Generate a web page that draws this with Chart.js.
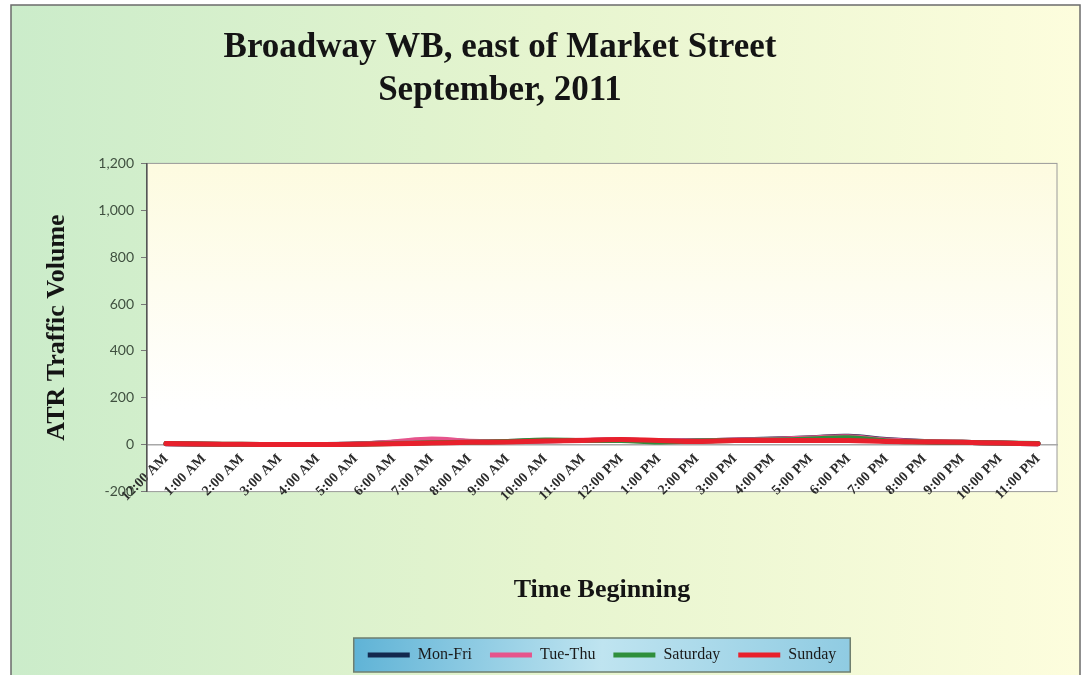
<!DOCTYPE html>
<html>
<head>
<meta charset="utf-8">
<script src="https://cdn.jsdelivr.net/npm/chart.js@4/dist/chart.umd.min.js"></script>
<style>
  html, body { margin: 0; padding: 0; background: #fff; }
  #wrap { width: 1084px; height: 675px; }
</style>
</head>
<body>
<div id="wrap"><canvas id="chart0"></canvas></div>
<script>
// hour labels along the bottom
const hours = ['12:00 AM', '1:00 AM', '2:00 AM', '3:00 AM', '4:00 AM', '5:00 AM',
  '6:00 AM', '7:00 AM', '8:00 AM', '9:00 AM', '10:00 AM', '11:00 AM',
  '12:00 PM', '1:00 PM', '2:00 PM', '3:00 PM', '4:00 PM', '5:00 PM',
  '6:00 PM', '7:00 PM', '8:00 PM', '9:00 PM', '10:00 PM', '11:00 PM'];
const monFri = [4, 2, 1, 1, 1, 3, 10, 20, 14, 14, 17, 18, 20, 16, 17, 20, 24, 30, 36, 22, 14, 10, 7, 4];
const tueThu = [4, 2, 1, 1, 1, 3, 12, 24, 15, 14, 16, 19, 21, 16, 17, 20, 23, 29, 34, 20, 14, 10, 7, 4];
const saturday = [5, 3, 2, 1, 1, 2, 5, 8, 10, 14, 20, 18, 18, 12, 16, 18, 20, 24, 30, 16, 12, 10, 7, 5];
const sunday = [5, 3, 2, 1, 1, 2, 4, 7, 10, 12, 16, 18, 22, 18, 14, 18, 18, 18, 18, 14, 12, 10, 7, 4];
const yMin = -200;
const yMax = 1200;
const yStep = 200;

// {{{ backdrop plugin
const backdrop =
{
  id: 'backdrop',
  afterLayout(chart)
  {
    // title sits left of centre in the original
    chart.titleBlock.left = 0;
    chart.titleBlock.right = 1000;
  },
  beforeDraw(chart)
  {
    let ctx = chart.ctx;
    let a = chart.chartArea;
    ctx.save();
    let g = ctx.createLinearGradient(11, 0, 1080, 0);
    g.addColorStop(0, '#cbecca');
    g.addColorStop(0.5, '#e6f5cf');
    g.addColorStop(1, '#fdfddd');
    ctx.fillStyle = g;
    ctx.fillRect(11, 5, 1069, 670);
    ctx.strokeStyle = '#6b6b6b';
    ctx.lineWidth = 1.5;
    ctx.strokeRect(11, 5, 1069, 672);
    let p = ctx.createLinearGradient(0, a.top, 0, a.bottom);
    p.addColorStop(0, '#fdfbe0');
    p.addColorStop(0.75, '#ffffff');
    p.addColorStop(1, '#ffffff');
    ctx.fillStyle = p;
    ctx.fillRect(a.left, a.top, a.right - a.left, a.bottom - a.top);
    ctx.strokeStyle = '#9a9a9a';
    ctx.lineWidth = 1;
    ctx.strokeRect(a.left, a.top, a.right - a.left, a.bottom - a.top);
    // legend frame
    let l = chart.legend;
    if (l && l.legendHitBoxes && l.legendHitBoxes.length)
    {
      let hb = l.legendHitBoxes;
      let x0 = hb[0].left - 14;
      let x1 = hb[hb.length - 1].left + hb[hb.length - 1].width + 14;
      let y0 = hb[0].top - 9;
      let y1 = hb[0].top + hb[0].height + 9;
      let lg = ctx.createLinearGradient(x0, y0, x1, y1);
      lg.addColorStop(0, '#5fb3d6');
      lg.addColorStop(0.5, '#bfe4f0');
      lg.addColorStop(1, '#8fcbe2');
      ctx.fillStyle = lg;
      ctx.fillRect(x0, y0, x1 - x0, y1 - y0);
      ctx.strokeStyle = '#6f7f6f';
      ctx.lineWidth = 1.5;
      ctx.strokeRect(x0, y0, x1 - x0, y1 - y0);
    }
    ctx.restore();
  }
};
// }}}

const ctx0 = document.getElementById('chart0');
new Chart(ctx0,
{
  type: 'line',
  data:
  {
    labels: hours,
    datasets:
    [
      {label: 'Mon-Fri', data: monFri, borderColor: '#13294f', backgroundColor: '#13294f', pointBorderColor: '#13294f', order: 4},
      {label: 'Tue-Thu', data: tueThu, borderColor: '#e6548c', backgroundColor: '#e6548c', pointBorderColor: '#e6548c', order: 3},
      {label: 'Saturday', data: saturday, borderColor: '#2f8f3c', backgroundColor: '#2f8f3c', pointBorderColor: '#2f8f3c', order: 2},
      {label: 'Sunday', data: sunday, borderColor: '#e8202c', backgroundColor: '#e8202c', pointBorderColor: '#e8202c', order: 1}
    ]
  },
  options:
  {
    responsive: true,
    maintainAspectRatio: false,
    animation: false,
    elements:
    {
      line: {borderWidth: 5, tension: 0.4, fill: false, borderCapStyle: 'round'},
      point: {radius: 0, hoverRadius: 0, borderWidth: 5}
    },
    layout: {padding: {left: 35, right: 27, top: 27, bottom: 2}},
    plugins:
    {
      title:
      {
        display: true,
        text: ['Broadway WB, east of Market Street', 'September, 2011'],
        font: {family: 'Liberation Serif', weight: 'bold', size: 35, lineHeight: 1.22},
        color: '#141414',
        padding: {top: 0, bottom: 51}
      },
      legend:
      {
        position: 'bottom',
        fullSize: false,
        // blank title only reserves the room that the x axis labels and title use
        title: {display: true, text: ' ', font: {size: 12}, padding: {top: 123, bottom: 0}},
        labels:
        {
          usePointStyle: true,
          pointStyle: 'line',
          pointStyleWidth: 42,
          boxHeight: 5,
          padding: 18,
          color: '#1a1a1a',
          font: {family: 'Liberation Serif', size: 16},
          sort: (a, b) => a.datasetIndex - b.datasetIndex
        }
      },
      tooltip: {enabled: false}
    },
    scales:
    {
      x:
      {
        position: {y: 0},
        offset: true,
        grid: {display: false, drawTicks: false},
        border: {display: true, color: '#a8a8a8', width: 1.5},
        ticks:
        {
          autoSkip: false,
          minRotation: 45,
          maxRotation: 45,
          padding: 6,
          color: '#2b2b2b',
          font: {family: 'Liberation Serif', weight: 'bold', size: 14}
        },
        title:
        {
          display: true,
          text: 'Time Beginning',
          color: '#141414',
          font: {family: 'Liberation Serif', weight: 'bold', size: 26},
          padding: {top: 0, bottom: -23}
        },
        afterFit: (scale) => { scale.height = 138; }
      },
      y:
      {
        min: yMin,
        max: yMax,
        ticks:
        {
          stepSize: yStep,
          padding: 7,
          color: '#3f4f3f',
          font: {family: 'Lato', size: 14},
          callback: (v) => v.toLocaleString('en-US')
        },
        grid:
        {
          color: 'rgba(0,0,0,0)',
          tickLength: 6,
          tickColor: '#777'
        },
        border: {display: true, color: '#555', width: 1.5},
        title:
        {
          display: true,
          text: 'ATR Traffic Volume',
          color: '#141414',
          font: {family: 'Liberation Serif', weight: 'bold', size: 26},
          padding: {top: 7, bottom: 0}
        },
        afterFit: (scale) => { scale.width = 112; }
      }
    }
  },
  plugins: [backdrop]
});
</script>
</body>
</html>
